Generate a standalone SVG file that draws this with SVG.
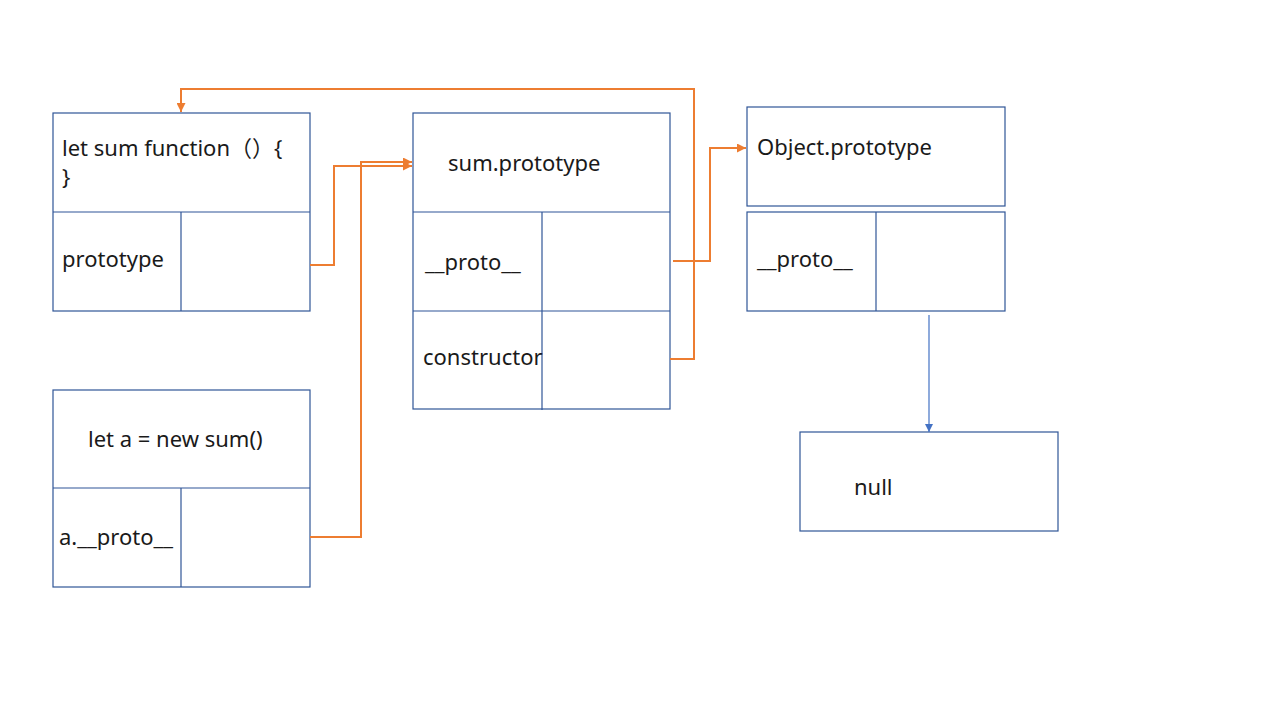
<svg xmlns="http://www.w3.org/2000/svg" width="1280" height="720" viewBox="0 0 1280 720">
<style>
.box{fill:#fff;stroke:#2F5597;stroke-width:1.2}
.ln{stroke:#2F5597;stroke-width:1.2;fill:none}
.t{font-family:"Noto Sans","Liberation Sans","Noto Sans CJK SC",sans-serif;font-size:22px;fill:#1a1a1a}
.o{fill:none;stroke:#ED7D31;stroke-width:2}
.b{fill:none;stroke:#4472C4;stroke-width:1.2}
</style>
<defs>
<marker id="ao" viewBox="0 0 10 10" refX="10" refY="5" markerWidth="4.5" markerHeight="4.5" orient="auto" markerUnits="strokeWidth"><path d="M0,0 L10,5 L0,10 z" fill="#ED7D31"/></marker>
<marker id="ab" viewBox="0 0 10 10" refX="10" refY="5" markerWidth="7" markerHeight="7" orient="auto" markerUnits="strokeWidth"><path d="M0,0 L10,5 L0,10 z" fill="#4472C4"/></marker>
</defs>
<rect width="1280" height="720" fill="#fff"/>
<g id="sum">
<rect class="box" x="53" y="113" width="257" height="198"/>
<line class="ln" x1="53" y1="212" x2="310" y2="212"/>
<line class="ln" x1="181" y1="212" x2="181" y2="311"/>
<text class="t" x="62" y="156">let sum function（）{</text>
<text class="t" x="62" y="185">}</text>
<text class="t" x="62" y="267">prototype</text>
</g>
<g id="sumproto">
<rect class="box" x="413" y="113" width="257" height="296"/>
<line class="ln" x1="413" y1="212" x2="670" y2="212"/>
<line class="ln" x1="413" y1="311" x2="670" y2="311"/>
<line class="ln" x1="542" y1="212" x2="542" y2="410"/>
<text class="t" x="448" y="171">sum.prototype</text>
<text class="t" x="425" y="270">__proto__</text>
<text class="t" x="423" y="365">constructor</text>
</g>
<g id="objproto">
<rect class="box" x="747" y="107" width="258" height="99"/>
<rect class="box" x="747" y="212" width="258" height="99"/>
<line class="ln" x1="876" y1="212" x2="876" y2="311"/>
<text class="t" x="757" y="155">Object.prototype</text>
<text class="t" x="757" y="267">__proto__</text>
</g>
<g id="null">
<rect class="box" x="800" y="432" width="258" height="99"/>
<text class="t" x="854" y="495">null</text>
</g>
<g id="a">
<rect class="box" x="53" y="390" width="257" height="197"/>
<line class="ln" x1="53" y1="488" x2="310" y2="488"/>
<line class="ln" x1="181" y1="488" x2="181" y2="587"/>
<text class="t" x="88" y="447">let a = new sum()</text>
<text class="t" x="59" y="545">a.__proto__</text>
</g>
<g id="connectors">
<polyline class="o" points="310,265 334,265 334,166 412,166" marker-end="url(#ao)"/>
<polyline class="o" points="310,537 361,537 361,162 412,162" marker-end="url(#ao)"/>
<polyline class="o" points="673,261 710,261 710,148 746,148" marker-end="url(#ao)"/>
<polyline class="o" points="670,359 694,359 694,89 181,89 181,112" marker-end="url(#ao)"/>
<line class="b" x1="929" y1="315" x2="929" y2="432" marker-end="url(#ab)"/>
</g>
</svg>
